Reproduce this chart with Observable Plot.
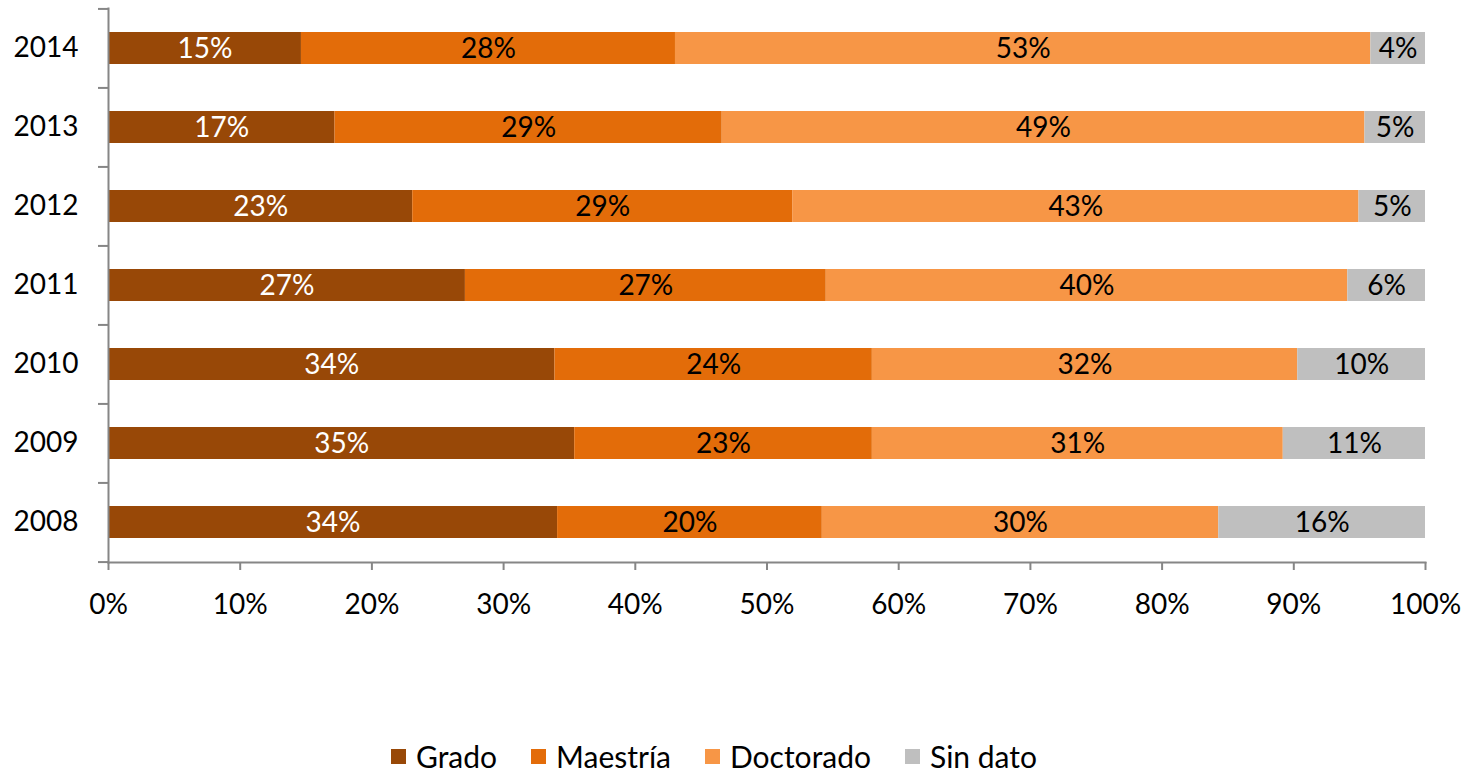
<!DOCTYPE html>
<html>
<head>
<meta charset="utf-8">
<script src="https://cdn.jsdelivr.net/npm/d3@7"></script>
<script src="https://cdn.jsdelivr.net/npm/@observablehq/plot@0.6"></script>
<style>
  body { margin: 0; background: #fff; font-family: Lato, "Open Sans", sans-serif; }
  #legend { display: flex; justify-content: center; align-items: center; padding-top: 98px; padding-right: 42px; font-size: 30px; color: #000; line-height: 36px; }
  .item { display: flex; align-items: center; margin: 0 17px; }
  .sw { width: 15px; height: 15px; margin-right: 10px; }
</style>
</head>
<body>
<div id="chart"></div>
<div id="legend"></div>
<script>
const years = ["2014", "2013", "2012", "2011", "2010", "2009", "2008"];
const categories = ["Grado", "Maestría", "Doctorado", "Sin dato"];
const colors = ["#984807", "#E36C09", "#F79646", "#BFBFBF"];
const grado     = [0.1465, 0.172, 0.231, 0.271, 0.339, 0.354, 0.341];
const maestria  = [0.284, 0.294, 0.2885, 0.274, 0.241, 0.226, 0.201];
const doctorado = [0.528, 0.488, 0.430, 0.396, 0.323, 0.312, 0.301];
const sinDato   = [0.0415, 0.046, 0.0505, 0.059, 0.097, 0.108, 0.157];
const xTicks = [0, 0.1, 0.2, 0.3, 0.4, 0.5, 0.6, 0.7, 0.8, 0.9, 1];

const series = [grado, maestria, doctorado, sinDato];
const data = [];
years.forEach((y, i) => categories.forEach((c, j) => data.push({year: y, cat: c, value: series[j][i]})));

const W = 1470, H = 640, mTop = 8, mBottom = 78, mLeft = 108, mRight = 45;
const step = (H - mTop - mBottom) / years.length;
const pct = d3.format(".0%");
const axisColor = "#868686";

const chart = Plot.plot({
  width: W, height: H,
  marginTop: mTop, marginBottom: mBottom, marginLeft: mLeft, marginRight: mRight,
  style: {fontFamily: "Lato, 'Open Sans', sans-serif", fontSize: "28px", color: "#000", background: "#fff"},
  x: {domain: [0, 1], label: null},
  y: {domain: years, paddingInner: 0.595, paddingOuter: 0.2975, label: null},
  color: {domain: categories, range: colors},
  marks: [
    Plot.barX(data, Plot.stackX({x: "value", y: "year", fill: "cat", order: categories})),
    Plot.text(data, Plot.stackX({x: "value", y: "year", order: categories, text: d => pct(d.value),
      fill: d => d.cat === "Grado" ? "white" : "black", fontSize: 28, dy: 1})),
    Plot.frame({anchor: "left", stroke: axisColor, strokeWidth: 2, strokeOpacity: 1}),
    Plot.frame({anchor: "bottom", stroke: axisColor, strokeWidth: 2, strokeOpacity: 1}),
    Plot.axisX({ticks: xTicks, tickFormat: pct, tickSize: 8, tickPadding: 24, label: null, stroke: axisColor, strokeOpacity: 1, strokeWidth: 2, fill: "#000", fontSize: 28}),
    Plot.axisY({tickSize: 0, tickPadding: 30, label: null, fill: "#000", fontSize: 28}),
    Plot.axisY({tickSize: 10, text: null, label: null, dy: -step / 2, stroke: axisColor, strokeOpacity: 1, strokeWidth: 2}),
    Plot.axisY({ticks: [years[years.length - 1]], tickSize: 10, text: null, label: null, dy: step / 2, stroke: axisColor, strokeOpacity: 1, strokeWidth: 2})
  ]
});
document.getElementById("chart").appendChild(chart);

const legend = document.getElementById("legend");
categories.forEach((c, i) => {
  const it = document.createElement("div");
  it.className = "item";
  it.innerHTML = `<div class="sw" style="background:${colors[i]}"></div><span>${c}</span>`;
  legend.appendChild(it);
});
</script>
</body>
</html>
